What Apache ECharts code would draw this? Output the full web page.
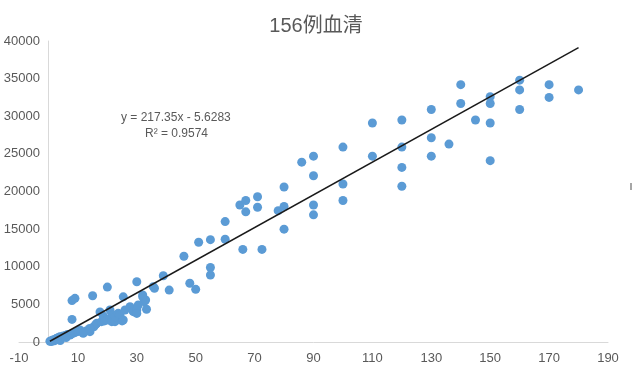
<!DOCTYPE html>
<html><head><meta charset="utf-8">
<script src="https://cdn.jsdelivr.net/npm/echarts@6/dist/echarts.min.js"></script>
<style>html,body{margin:0;padding:0;background:#fff}#c{width:632px;height:375px}</style>
</head><body><div id="c"></div>
<script>
const titleText = '156例血清';
const equationText = 'y = 217.35x - 5.6283';
const r2Text = 'R² = 0.9574';
const slope = 217.35;
const intercept = -5.6283;
const xTicks = [-10, 10, 30, 50, 70, 90, 110, 130, 150, 170, 190];
const yTicks = [0, 5000, 10000, 15000, 20000, 25000, 30000, 35000, 40000];
const xValues = [0.5,1,1.5,2,2.5,2.8,3,3.5,3.9,4.5,5,5.6,6,6.5,7.3,8,9,10,10.7,11.8,13,14.1,15.4,16,16.4,17.5,18,18.6,19,19.8,20.9,20.9,21.5,22,22.6,22.6,23.7,24.3,25,25.4,25.4,26,27.7,28.8,30,30.5,30,32,32.5,33.3,35.6,36,39,41,46,48,50,51,55,55,55,60,60,65,66,67,67,71,71,72.5,78,80,80,80,86,90,90,90,90,100,100,100,110,110,120,120,120,120,130,130,130,136,140,140,145,150,150,150,150,160,160,160,170,170,180,8,9,8,15,20,30,33,32,12,14,4,6,2,1,3];
const yValues = [100,150,260,300,400,490,350,600,700,650,800,800,900,1000,930,1100,1240,1400,1600,1150,1500,1370,2030,2300,2480,4000,2700,3460,2800,2920,3150,4250,2700,3590,2700,3360,3810,3590,2800,2920,6000,4250,4700,4030,4250,4920,3800,6000,5360,4350,7350,7150,8800,6900,11400,7800,7000,13250,13600,9900,8900,16000,13650,18200,12300,18800,17300,19300,17900,12300,17450,20600,18000,15000,23900,24700,22100,18200,16900,25900,21000,18800,29100,24700,29500,25900,23200,20700,30900,27150,24700,26300,34200,31700,29500,32600,31700,29100,24100,34800,33500,30900,34200,32500,33500,5500,5800,3000,6150,7300,8000,5580,6250,1300,1800,200,600,150,50,450];

const pts = xValues.map((x, i) => [x, yValues[i]]);
const xMin = Math.min(...xValues), xMax = Math.max(...xValues);
const trend = [[xMin, slope * xMin + intercept], [xMax, slope * xMax + intercept]];
const font = '"Liberation Sans", Arial, sans-serif';

const chart = echarts.init(document.getElementById('c'), null, {renderer: 'canvas'});
chart.setOption({
  animation: false,
  backgroundColor: '#fff',
  title: {text: titleText, left: 'center', top: 11,
    textStyle: {fontSize: 20, fontWeight: 'normal', color: '#595959', fontFamily: '"Liberation Sans", "Noto Sans CJK SC", sans-serif'}},
  grid: {left: 19, right: 24, top: 41, bottom: 33, containLabel: false, outerBoundsMode: 'none'},
  xAxis: {type: 'value', min: xTicks[0], max: xTicks[xTicks.length - 1], interval: 20,
    splitLine: {show: false}, axisTick: {show: false},
    axisLine: {onZero: true, lineStyle: {color: '#d9d9d9', width: 1}},
    axisLabel: {color: '#595959', fontSize: 13, fontFamily: font, margin: 10, formatter: v => String(v)}},
  yAxis: {type: 'value', min: yTicks[0], max: yTicks[yTicks.length - 1], interval: 5000,
    splitLine: {show: false}, axisTick: {show: false},
    axisLine: {show: true, onZero: true, lineStyle: {color: '#d9d9d9', width: 1}},
    axisLabel: {color: '#595959', fontSize: 13, fontFamily: font, margin: -21, formatter: v => String(v)}},
  series: [
    {type: 'scatter', data: pts, symbolSize: 9, itemStyle: {color: '#5B9BD5', opacity: 1}, z: 2},
    {type: 'line', data: trend, showSymbol: false, symbol: 'none', lineStyle: {color: '#1a1a1a', width: 1.5}, z: 3}
  ],
  graphic: [
    {type: 'text', left: 121, top: 112, style: {text: equationText, fill: '#595959', font: '12px ' + font}},
    {type: 'text', left: 145, top: 128, style: {text: r2Text, fill: '#595959', font: '12px ' + font}},
    {type: 'rect', shape: {x: 630, y: 183, width: 2, height: 7}, style: {fill: '#a6a6a6'}}
  ]
});
</script></body></html>
